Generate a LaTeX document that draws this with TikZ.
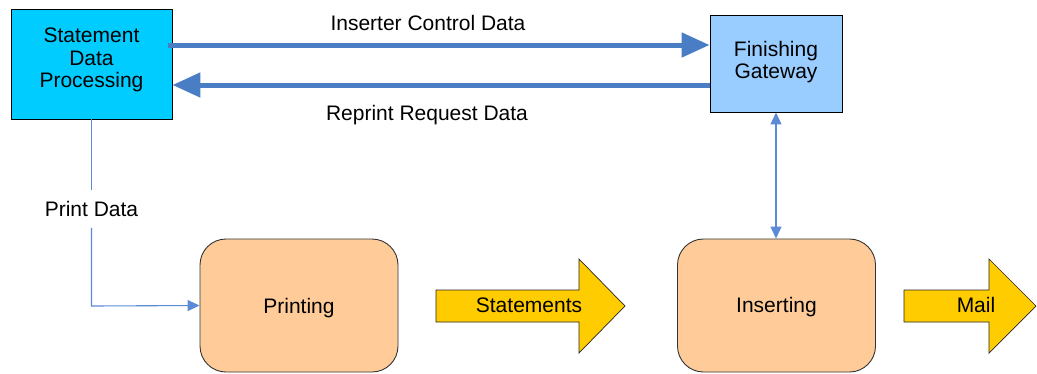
\documentclass[tikz,border=0pt]{standalone}
\usepackage{fontspec}
\setmainfont{Liberation Sans}
\usetikzlibrary{arrows.meta}
\definecolor{sdpfill}{HTML}{00CCFF}
\definecolor{fgfill}{HTML}{99CCFF}
\definecolor{procfill}{HTML}{FFCC99}
\definecolor{arrfill}{HTML}{FFCC00}
\definecolor{conblue}{HTML}{4A7EC4}
\definecolor{thinblue}{HTML}{5B8BD6}
\tikzset{
  sqbox/.style={draw=black, line width=0.9pt, align=center, inner sep=0pt},
  procbox/.style={draw=black!80, line width=0.9pt, fill=procfill, rounded corners=26pt,
    minimum width=198pt, minimum height=133pt, inner sep=0pt},
  bigarrow/.style={draw=black!85, line width=0.7pt, fill=arrfill},
  thickcon/.style={draw=conblue, line width=5pt, -{Triangle[length=28pt,width=24pt]}},
  thincon/.style={draw=thinblue, line width=1.1pt},
  lbl/.style={inner sep=0pt}
}
\begin{document}
\begin{tikzpicture}[x=1pt,y=-1pt,font=\fontsize{21}{22.5}\selectfont]
\useasboundingbox (0,0) rectangle (1037,373);
\clip (0,0) rectangle (1037,373);
\node[sqbox, fill=sdpfill, minimum width=161pt, minimum height=110pt] (sdp) at (91.5,64) {};
\node[lbl, align=center, anchor=north] (sdptext) at (91.5,28) {Statement\\Data\\Processing};
\node[sqbox, fill=fgfill, minimum width=132pt, minimum height=97pt] (fg) at (776,63.5) {};
\node[lbl, align=center, anchor=north] (fgtext) at (776,41) {Finishing\\Gateway};
\node[procbox] (printing) at (299,305.5) {};
\node[lbl, anchor=base] (printtext) at (299,313) {Printing};
\node[procbox] (inserting) at (776.5,305.5) {};
\node[lbl, anchor=base] (inserttext) at (776.5,312) {Inserting};

% big yellow arrows
\draw[bigarrow] (436,290) -- (579,290) -- (579,259) -- (625,306) -- (579,353) -- (579,322) -- (436,322) -- cycle;
\node[lbl, anchor=base] (statements) at (529,312) {Statements};
\draw[bigarrow] (904,290) -- (989,290) -- (989,259) -- (1036,306) -- (989,353) -- (989,322) -- (904,322) -- cycle;
\node[lbl, anchor=base] (mail) at (976,312) {Mail};

% thick connectors
\draw[thickcon] ([xshift=-4pt,yshift=19pt]sdp.east) -- ([yshift=19pt]sdp.east -| fg.west);
\draw[thickcon] ([yshift=-21.5pt]fg.west) -- ([yshift=-21.5pt]fg.west -| sdp.east);
\node[lbl] (icd) at (428,23) {Inserter Control Data};
\node[lbl] (rrd) at (427,115) {Reprint Request Data};

% print data
\node[lbl, inner ysep=11pt] (pd) at (91.5,209) {Print Data};
\coordinate (corner) at (91.5,306);
\draw[thincon] (sdp.south) -- (pd.north);
\draw[thincon, -{Triangle[length=12pt,width=11pt]}] (pd.south) -- (corner) -- (printing.west);

% gateway to inserting
\draw[thincon, {Triangle[length=12pt,width=11pt]}-{Triangle[length=12pt,width=11pt]}] (fg.south) -- (fg.south |- inserting.north);
\end{tikzpicture}
\end{document}
